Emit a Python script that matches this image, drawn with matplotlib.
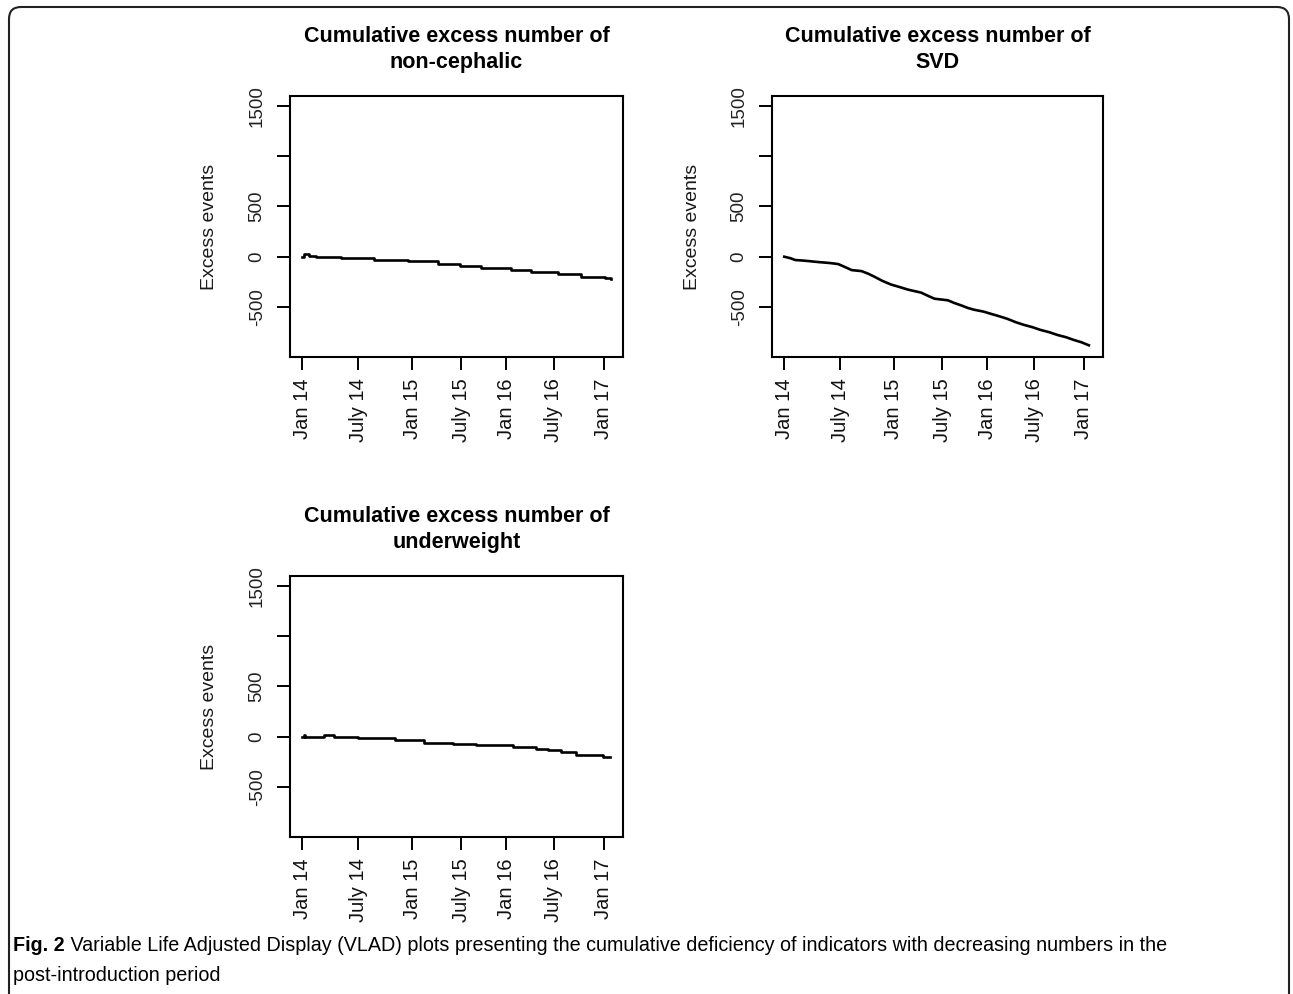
import matplotlib

matplotlib.use("Agg")
import matplotlib.pyplot as plt
from matplotlib.patches import FancyBboxPatch

# x is the running case index (the date ticks are not evenly spaced)
tick_pos = [0, 182, 357, 516, 662, 815, 977]
tick_labels = ["Jan 14", "July 14", "Jan 15", "July 15", "Jan 16", "July 16", "Jan 17"]
ytick_vals = [-500, 0, 500, 1000, 1500]
ytick_labels = ["-500", "0", "500", "", "1500"]

noncephalic_x = [0, 6, 23, 44, 126, 234, 342, 439, 510, 580, 678, 742, 829, 905, 981, 1000]
noncephalic_y = [0, 30, 10, 0, -15, -30, -47, -73, -97, -113, -130, -153, -173, -197, -213, -218]

svd_x = [0, 20, 36, 60, 79, 100, 111, 150, 176, 200, 220, 252, 275, 295, 320, 349, 375,
         404, 447, 470, 490, 534, 555, 577, 600, 620, 650, 674, 700, 728, 755, 782, 810,
         836, 865, 891, 920, 945, 970, 994]
svd_y = [0, -15, -33, -38, -43, -50, -53, -63, -73, -105, -133, -143, -170, -200, -240,
         -277, -300, -327, -357, -390, -417, -433, -460, -483, -510, -527, -545, -567,
         -590, -617, -650, -677, -700, -727, -750, -777, -800, -827, -850, -880]

underweight_x = [0, 6, 10, 71, 104, 180, 201, 299, 396, 488, 564, 683, 759, 797, 840,
                 889, 975, 997]
underweight_y = [0, 20, 0, 17, 0, -13, -13, -30, -63, -73, -80, -100, -120, -133, -153,
                 -180, -203, -205]

titles = [
    "Cumulative excess number of\nnon-cephalic",
    "Cumulative excess number of\nSVD",
    "Cumulative excess number of\nunderweight",
]

caption_bold = "Fig. 2"
caption_1 = (" Variable Life Adjusted Display (VLAD) plots presenting the cumulative "
             "deficiency of indicators with decreasing numbers in the")
caption_2 = "post-introduction period"

W, H = 1293, 994
plt.rcParams.update({"font.family": ["Liberation Sans", "DejaVu Sans"]})

fig = plt.figure(figsize=(W / 100, H / 100), dpi=100)

# pixel boxes (left, top, right, bottom) of the three plot regions
boxes = [(290, 96, 623, 357), (772, 96, 1103, 357), (290, 576, 623, 837)]
series = [
    (noncephalic_x, noncephalic_y, "steps-post"),
    (svd_x, svd_y, "default"),
    (underweight_x, underweight_y, "steps-post"),
]

for (l, t, r, b), (xs, ys, ds), title in zip(boxes, series, titles):
    ax = fig.add_axes([l / W, 1 - b / H, (r - l) / W, (b - t) / H])
    ax.plot(xs, ys, drawstyle=ds, color="black", linewidth=1.9)
    ax.set_xlim(-40, 1040)
    ax.set_ylim(-996, 1596)
    ax.set_xticks(tick_pos)
    ax.set_xticklabels(tick_labels, rotation=90, fontsize=14.5, color="#111111")
    ax.set_yticks(ytick_vals)
    ax.set_yticklabels(ytick_labels, rotation=90, va="center", fontsize=13.5, color="#222222")
    ax.tick_params(axis="both", direction="out", length=9.5, width=1.4, color="black")
    ax.tick_params(axis="x", pad=6)
    ax.tick_params(axis="y", pad=8)
    for sp in ax.spines.values():
        sp.set_linewidth(1.5)
        sp.set_color("black")
    ax.set_ylabel("Excess events", fontsize=14, color="#1a1a1a")
    ax.yaxis.set_label_coords(-0.215, 0.5)
    ax.set_title(title, fontsize=15.5, fontweight="bold", pad=20, linespacing=1.3)

cap_size = 14.2
t1 = fig.text(13 / W, 1 - 955 / H, caption_bold, fontsize=cap_size, fontweight="bold",
              va="bottom")
plt.annotate(caption_1, xy=(1, 0), xycoords=t1, va="bottom", ha="left", fontsize=cap_size)
fig.text(13 / W, 1 - 985 / H, caption_2, fontsize=cap_size, va="bottom")

frame = FancyBboxPatch((0.09, -0.5), 12.80, 10.37,
                       boxstyle="round,pad=0,rounding_size=0.12",
                       transform=fig.dpi_scale_trans, fill=False,
                       edgecolor="#222222", linewidth=1.5)
fig.patches.append(frame)

fig.savefig("out.png", dpi=100)
